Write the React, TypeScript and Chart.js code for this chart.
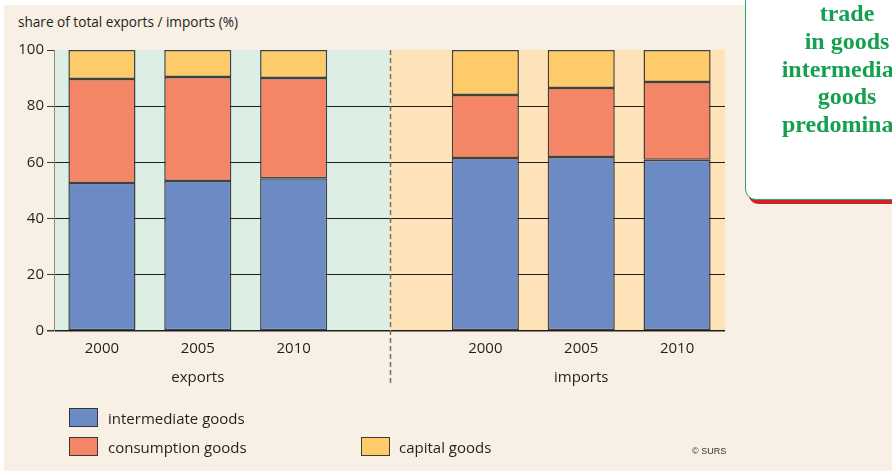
import React, { useEffect, useRef } from "react";
import { Chart, registerables } from "chart.js";

Chart.register(...registerables);

const categories = ["2000", "2005", "2010", "", "2000", "2005", "2010"];
const groups = ["exports", "imports"];
const groupCenters = [1, 5];
const dividerIndex = 3;
const intermediate = [52.7, 53.4, 54.4, null, 61.6, 61.9, 60.9];
const consumption = [37.0, 37.0, 35.6, null, 22.4, 24.6, 27.7];
const capital = [10.3, 9.6, 10.0, null, 16.0, 13.5, 11.4];
const yTicks = [0, 20, 40, 60, 80, 100];
const seriesNames = ["intermediate goods", "consumption goods", "capital goods"];
const yTitle = "share of total exports / imports (%)";
const calloutLines = ["trade", "in goods", "intermediate", "goods", "predominate"];

const FONT = "'Open Sans', 'Noto Sans', sans-serif";
const TEXT = "#231f20";
const BLUE = "#6c8ac4";
const SALMON = "#f48566";
const YELLOW = "#fecb6a";
const BORDER = "rgba(45,45,45,0.9)";

const bgPlugin = {
  id: "panelBg",
  beforeDraw(chart: any) {
    const { ctx, chartArea: a, scales } = chart;
    const mid = scales.x.getPixelForValue(dividerIndex);
    ctx.save();
    ctx.fillStyle = "#ddeee5";
    ctx.fillRect(a.left, a.top, mid - a.left, a.bottom - a.top);
    ctx.fillStyle = "#fee3b8";
    ctx.fillRect(mid, a.top, a.right - mid, a.bottom - a.top);
    ctx.restore();
  },
  afterDraw(chart: any) {
    const { ctx, chartArea: a, scales } = chart;
    const mid = Math.round(scales.x.getPixelForValue(dividerIndex)) + 0.5;
    ctx.save();
    ctx.strokeStyle = "#6e6e6e";
    ctx.lineWidth = 1.5;
    ctx.setLineDash([5, 3]);
    ctx.beginPath();
    ctx.moveTo(mid, a.top);
    ctx.lineTo(mid, a.bottom + 52);
    ctx.stroke();
    ctx.setLineDash([]);
    ctx.fillStyle = TEXT;
    ctx.font = `15px ${FONT}`;
    ctx.textAlign = "center";
    ctx.textBaseline = "middle";
    groups.forEach((g, i) => {
      ctx.fillText(g, scales.x.getPixelForValue(groupCenters[i]), a.bottom + 47);
    });
    ctx.restore();
  },
};

export default function App() {
  const ref = useRef<HTMLCanvasElement>(null);

  useEffect(() => {
    if (!ref.current) return;
    const ds = (label: string, data: any[], color: string) => ({
      label,
      data,
      backgroundColor: color,
      borderColor: BORDER,
      borderWidth: 1.5,
      borderSkipped: false,
      categoryPercentage: 1,
      barPercentage: 0.7,
    });
    const chart = new Chart(ref.current, {
      type: "bar",
      data: {
        labels: categories,
        datasets: [
          ds(seriesNames[0], intermediate, BLUE),
          ds(seriesNames[1], consumption, SALMON),
          ds(seriesNames[2], capital, YELLOW),
        ],
      },
      options: {
        responsive: false,
        animation: false,
        layout: { padding: { top: 50, right: 167, left: 0, bottom: 0 } },
        plugins: { legend: { display: false }, tooltip: { enabled: false } },
        scales: {
          x: {
            stacked: true,
            grid: { display: false, drawTicks: false },
            border: { display: false },
            ticks: { padding: 9, color: TEXT, font: { family: FONT, size: 15 }, maxRotation: 0 },
            afterFit: (s: any) => {
              s.height = 140;
            },
          },
          y: {
            stacked: true,
            min: 0,
            max: 100,
            afterBuildTicks: (s: any) => {
              s.ticks = yTicks.map((v) => ({ value: v }));
            },
            grid: {
              color: (c: any) => (c.tick && c.tick.value === 100 ? "rgba(0,0,0,0)" : "#1e1e1e"),
              lineWidth: (c: any) => (c.tick && c.tick.value === 0 ? 1.5 : 1),
              tickColor: "#3a3a3a",
              tickLength: 7,
            },
            border: { display: true, color: "#8a8a8a", width: 1 },
            ticks: { padding: 3, color: TEXT, font: { family: FONT, size: 15 } },
            afterFit: (s: any) => {
              s.width = 54;
            },
          },
        },
      },
      plugins: [bgPlugin],
    } as any);
    return () => chart.destroy();
  }, []);

  const swatch = (left: number, top: number, color: string) => (
    <div
      style={{
        position: "absolute",
        left,
        top,
        width: 27,
        height: 17,
        background: color,
        border: `1.5px solid ${BORDER}`,
      }}
    />
  );
  const legendText = (left: number, top: number, text: string) => (
    <div
      style={{
        position: "absolute",
        left,
        top,
        font: `15px ${FONT}`,
        color: TEXT,
        lineHeight: "20px",
        whiteSpace: "nowrap",
      }}
    >
      {text}
    </div>
  );

  return (
    <div style={{ position: "fixed", left: 0, top: 0, width: 892, height: 471, background: "#fff", overflow: "hidden" }}>
      <div style={{ position: "absolute", left: 4, top: 5, right: 0, bottom: 0, background: "#f8f0e4" }} />
      <div
        style={{
          position: "absolute",
          left: 18,
          top: 13,
          font: `13.6px ${FONT}`,
          color: TEXT,
          lineHeight: "18px",
          whiteSpace: "nowrap",
        }}
      >
        {yTitle}
      </div>
      <canvas ref={ref} width={892} height={471} style={{ position: "absolute", left: 0, top: 0, display: "block" }} />
      {swatch(69, 408, BLUE)}
      {legendText(108, 408, seriesNames[0])}
      {swatch(69, 437, SALMON)}
      {legendText(108, 437, seriesNames[1])}
      {swatch(361, 437, YELLOW)}
      {legendText(399, 437, seriesNames[2])}
      <div
        style={{
          position: "absolute",
          left: 692,
          top: 446,
          font: "9px 'Liberation Sans', Arial, sans-serif",
          color: "#333",
          whiteSpace: "nowrap",
        }}
      >
        © SURS
      </div>
      <div
        style={{
          position: "absolute",
          left: 745,
          top: -20,
          width: 220,
          height: 218,
          background: "#fff",
          border: "1.5px solid #2aa868",
          borderRadius: "0 0 0 11px",
          boxShadow: "3px 4px 0 #d51f27",
        }}
      />
      <div
        style={{
          position: "absolute",
          left: 747,
          top: 0,
          width: 200,
          textAlign: "center",
          font: "bold 24px 'Liberation Serif', 'DejaVu Serif', serif",
          lineHeight: "27.8px",
          color: "#15a04f",
          whiteSpace: "nowrap",
        }}
      >
        {calloutLines.map((l, i) => (
          <div key={i}>{l}</div>
        ))}
      </div>
    </div>
  );
}
